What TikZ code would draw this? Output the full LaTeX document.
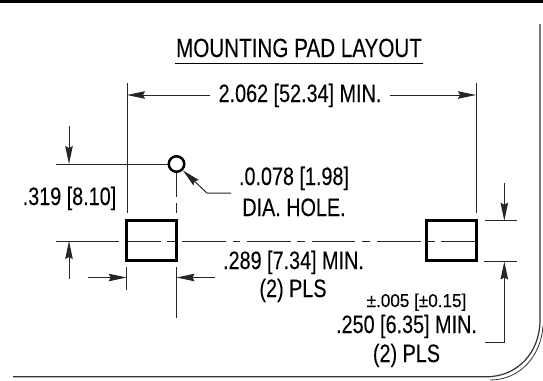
\documentclass[tikz,border=0pt]{standalone}
\usepackage{fontspec}
\setmainfont[FakeStretch=0.785,FakeBold=0.12]{Liberation Sans}
\newfontfamily\tolfont[FakeStretch=0.92,FakeBold=0.08]{Liberation Sans}
\usetikzlibrary{arrows.meta}
\tikzset{
  thinln/.style={line width=1pt,black!85},
  dimarrow/.style={thinln,-{Stealth[length=18pt,width=7.5pt,inset=2pt]}},
  padbox/.style={line width=3pt,black},
  holecirc/.style={line width=2.5pt,black},
  framing/.style={line width=1.2pt,black!80},
  lbl/.style={anchor=base,inner sep=0pt,outer sep=0pt,font=\fontsize{25.2}{28}\selectfont},
  lblsmall/.style={anchor=base,inner sep=0pt,outer sep=0pt,font=\tolfont\fontsize{18.6}{22}\selectfont}
}
\begin{document}
\begin{tikzpicture}[x=1pt,y=-1pt]
\useasboundingbox (0,0) rectangle (543,380);
\fill[black] (0,0) rectangle (543,2.6);
% frame
\draw[framing] (540,24) -- (540,320) .. controls (540,352) and (518,376.8) .. (486,376.8) -- (13,376.8);
\draw[line width=0.8pt,black!80] (543,326) .. controls (541,356) and (520,380) .. (490,380);
% title
\node[lbl,font=\fontsize{26.3}{30}\selectfont] (title) at (299,57) {MOUNTING PAD LAYOUT};
\draw[line width=1.6pt] (175,63.5) -- (423,63.5);
% overall width
\coordinate (eLt) at (127,83); \coordinate (eLb) at (127,213);
\coordinate (eRt) at (476,83); \coordinate (eRb) at (476,213);
\draw[thinln] (eLt) -- (eLb); \draw[thinln] (eRt) -- (eRb);
\node[lbl] (wdim) at (300,102) {2.062 [52.34] MIN.};
\coordinate (aL) at (127,95); \coordinate (aR) at (476,95);
\draw[dimarrow] (210,95) -- (aL);
\draw[dimarrow] (390,95) -- (aR);
% hole
\node[circle,draw,holecirc,minimum size=15.5pt,inner sep=0pt] (hole) at (176.5,164) {};
\draw[thinln] (56,164) -- (hole.west);
\draw[thinln] (hole.south) -- (176.5,197);
\draw[thinln] (176.5,203) -- (176.5,213);
\draw[thinln] (176.5,267) -- (176.5,318);
\coordinate (lead) at (207,193);
\coordinate (leadend) at (231,193);
\draw[dimarrow] (leadend) -- (lead) -- (hole.south east);
\node[lbl] (holea) at (294,185) {.0.078 [1.98]};
\node[lbl] (holeb) at (294,216) {DIA. HOLE.};
% pads
\node[draw,padbox,minimum width=50pt,minimum height=39.5pt,inner sep=0pt] (padL) at (151.5,240.7) {};
\node[draw,padbox,minimum width=50pt,minimum height=39.5pt,inner sep=0pt] (padR) at (451,240.7) {};
% centre line
\foreach \a/\b in {56/119,128/161,167/176.5,182/226,233/240,247/291,297/305,312/355,362/370,377/421,427/435,441/476}
  \draw[thinln] (\a,241) -- (\b,241);
% .319
\node[lbl] (d319) at (69.5,205) {.319 [8.10]};
\draw[dimarrow] (69,126) -- (69,164);
\draw[dimarrow] (69,279) -- (69,241);
% .289
\draw[thinln] (126.7,267) -- (126.7,290);
\draw[dimarrow] (88,277.5) -- (126.7,277.5);
\draw[dimarrow] (215,277.5) -- (176.5,277.5);
\node[lbl] (d289) at (293.5,269) {.289 [7.34] MIN.};
\node[lbl] (d289b) at (293,297) {(2) PLS};
% .250
\draw[thinln] (485,220.7) -- (517,220.7);
\draw[thinln] (484,261) -- (517,261);
\draw[dimarrow] (504.3,183) -- (504.3,220.7);
\draw[dimarrow] (485,342) -- (504.3,342) -- (504.3,261.5);
\node[lblsmall] (tol) at (416.5,307) {±.005 [±0.15]};
\node[lbl] (d250) at (406.5,333) {.250 [6.35] MIN.};
\node[lbl] (d250b) at (406.5,362) {(2) PLS};
\end{tikzpicture}
\end{document}
